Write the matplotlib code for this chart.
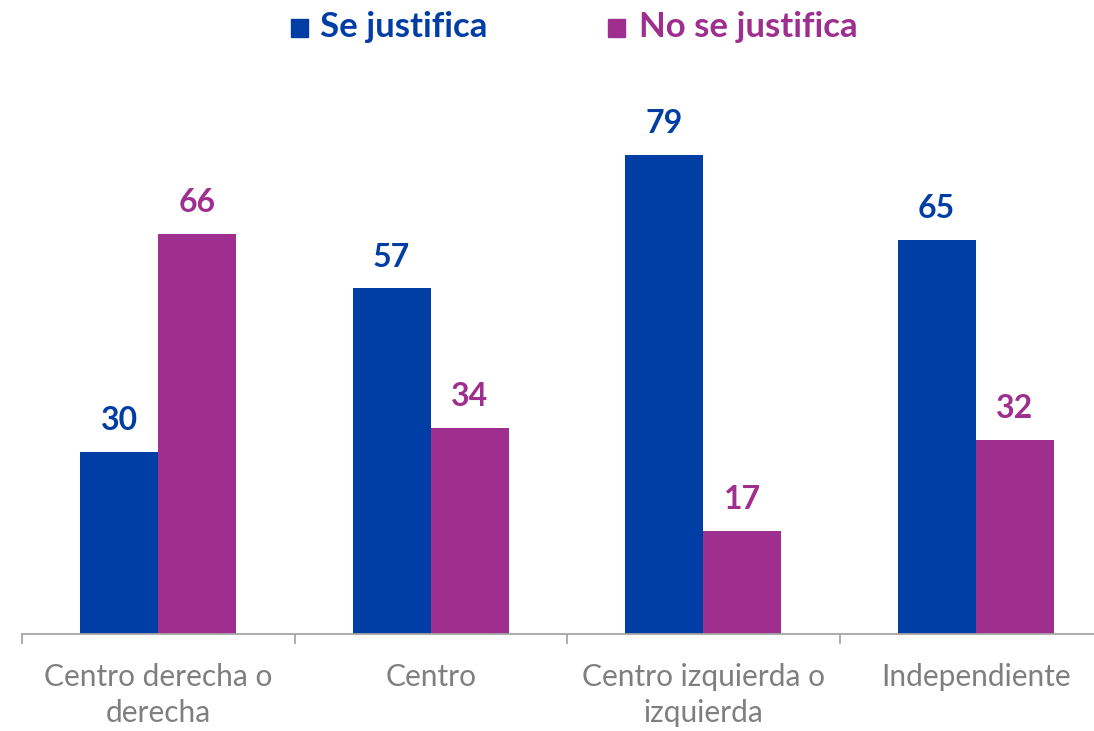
import matplotlib
matplotlib.use("Agg")
import matplotlib.pyplot as plt
import numpy as np

categories = ["Centro derecha o\nderecha", "Centro", "Centro izquierda o\nizquierda", "Independiente"]
se_justifica = [30, 57, 79, 65]
no_se_justifica = [66, 34, 17, 32]
series_names = ["Se justifica", "No se justifica"]

BLUE = "#003DA5"
MAGENTA = "#9E2F8E"
GRAY_TEXT = "#7F7F7F"
AXIS = "#A6A6A6"

plt.rcParams['font.family'] = ['Lato', 'DejaVu Sans']

W, H = 1094, 731
fig = plt.figure(figsize=(W / 100, H / 100), dpi=100)
left = 22 / W
right = 1112 / W
bottom = (H - 634) / H
height = 546 / H
ax = fig.add_axes([left, bottom, right - left, height])

x = np.arange(len(categories))
w = 0.287
b1 = ax.bar(x - w / 2, se_justifica, width=w, color=BLUE)
b2 = ax.bar(x + w / 2, no_se_justifica, width=w, color=MAGENTA)

for bars, vals, col in [(b1, se_justifica, BLUE), (b2, no_se_justifica, MAGENTA)]:
    for r, v in zip(bars, vals):
        ax.annotate(f"{v}", (r.get_x() + r.get_width() / 2, v), xytext=(0, 12),
                    textcoords="offset points", ha="center", va="bottom",
                    fontsize=23, fontweight="bold", color=col)

ax.set_xlim(-0.5, len(categories) - 0.5)
ax.set_ylim(0, 90)
ax.set_yticks([])
for s in ["top", "right", "left"]:
    ax.spines[s].set_visible(False)
ax.spines["bottom"].set_color(AXIS)
ax.spines["bottom"].set_linewidth(1.3)

ax.set_xticks(np.arange(len(categories) + 1) - 0.5)
ax.set_xticklabels([])
ax.tick_params(axis="x", which="major", length=7, width=1.3, color=AXIS)
ax.set_xticks(x, minor=True)
ax.set_xticklabels(categories, minor=True, fontsize=21.5, color=GRAY_TEXT, linespacing=1.36)
ax.tick_params(axis="x", which="minor", length=0, pad=21)

# legend
base = 1 - 37 / H
fig.patches.append(plt.Rectangle((291 / W, 1 - 37 / H), 17 / W, 18 / H, transform=fig.transFigure, color=BLUE))
fig.text(320 / W, base, series_names[0], color=BLUE, fontsize=25, fontweight="bold", va="baseline", ha="left")
fig.patches.append(plt.Rectangle((608 / W, 1 - 37 / H), 17 / W, 18 / H, transform=fig.transFigure, color=MAGENTA))
fig.text(639 / W, base, series_names[1], color=MAGENTA, fontsize=25, fontweight="bold", va="baseline", ha="left")

fig.savefig("out.png", dpi=100)
